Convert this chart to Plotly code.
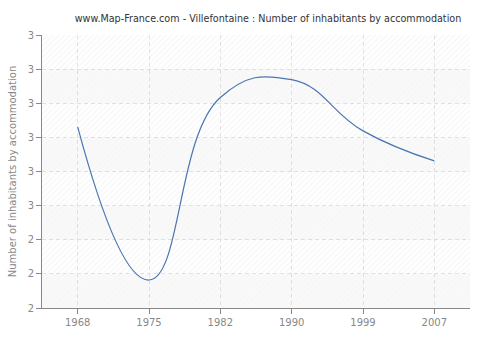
import plotly.graph_objects as go

years = ["1968", "1975", "1982", "1990", "1999", "2007"]
values = [2.731, 2.282, 2.817, 2.869, 2.719, 2.631]
y_ticks = [2.2, 2.3, 2.4, 2.5, 2.6, 2.7, 2.8, 2.9, 3.0]
y_tick_labels = ["2", "2", "2", "3", "3", "3", "3", "3", "3"]

title = "www.Map-France.com - Villefontaine : Number of inhabitants by accommodation"
y_title = "Number of inhabitants by accommodation"

positions = list(range(len(years)))
xr = [positions[0] - 0.5, positions[-1] + 0.5]

fig = go.Figure()

# background bands (alternating hatched / plain), translucent so grid shows
for i in range(len(y_ticks) - 1):
    b0, b1 = y_ticks[i], y_ticks[i + 1]
    hatched = (len(y_ticks) - 2 - i) % 2 == 0
    fig.add_trace(go.Scatter(
        x=[xr[0], xr[1], xr[1], xr[0], xr[0]],
        y=[b0, b0, b1, b1, b0],
        mode="lines", line=dict(width=0), fill="toself",
        fillcolor="rgba(0,0,0,0)" if hatched else "rgba(0,0,0,0.025)",
        fillpattern=dict(shape="/",
                         fgcolor="rgba(0,0,0,0.08)" if hatched else "rgba(0,0,0,0.025)",
                         bgcolor="rgba(0,0,0,0)" if hatched else "rgba(0,0,0,0.025)",
                         size=4, solidity=0.25),
        hoverinfo="skip", showlegend=False,
    ))

fig.add_trace(go.Scatter(
    x=positions, y=values, mode="lines",
    line=dict(color="#4a76b0", width=1.2, shape="spline", smoothing=1.3),
    showlegend=False,
))

# outer panel
w, h, r = 490, 330, 8
x0, y0 = 5, 5
path = (f"M {x0+r},{y0} L {x0+w-r},{y0} Q {x0+w},{y0} {x0+w},{y0+r} "
        f"L {x0+w},{y0+h-r} Q {x0+w},{y0+h} {x0+w-r},{y0+h} "
        f"L {x0+r},{y0+h} Q {x0},{y0+h} {x0},{y0+h-r} "
        f"L {x0},{y0+r} Q {x0},{y0} {x0+r},{y0} Z")

fig.update_layout(
    width=500, height=340,
    margin=dict(l=40, r=30, t=35, b=30),
    paper_bgcolor="#ffffff",
    plot_bgcolor="#ffffff",
    font=dict(family="DejaVu Sans", size=10, color="#888888"),
    title=dict(text=title, x=0.536, xanchor="center", y=0.945, yanchor="middle",
               font=dict(family="DejaVu Sans", size=9.6, color="#333333")),
    shapes=[dict(type="path", path=path, xref="paper", yref="paper",
                 fillcolor="#efefef", line=dict(color="#e2e2e2", width=1),
                 layer="below")],
    xaxis=dict(
        range=xr, tickvals=positions, ticktext=years,
        showgrid=True, gridcolor="#e4e4e4", griddash="4px,3px", gridwidth=1,
        showline=True, linecolor="#888888", linewidth=1,
        ticks="outside", ticklen=5, tickcolor="#888888",
        tickfont=dict(size=10, color="#888888"),
        zeroline=False,
    ),
    yaxis=dict(
        range=[y_ticks[0], y_ticks[-1]], tickvals=y_ticks, ticktext=y_tick_labels,
        showgrid=True, gridcolor="#e4e4e4", griddash="4px,3px", gridwidth=1,
        showline=True, linecolor="#888888", linewidth=1,
        ticks="outside", ticklen=5, tickcolor="#888888",
        tickfont=dict(size=10, color="#888888"),
        title=dict(text=y_title, font=dict(size=10, color="#888888"), standoff=9),
        zeroline=False,
    ),
)

fig.write_html("out.html")
